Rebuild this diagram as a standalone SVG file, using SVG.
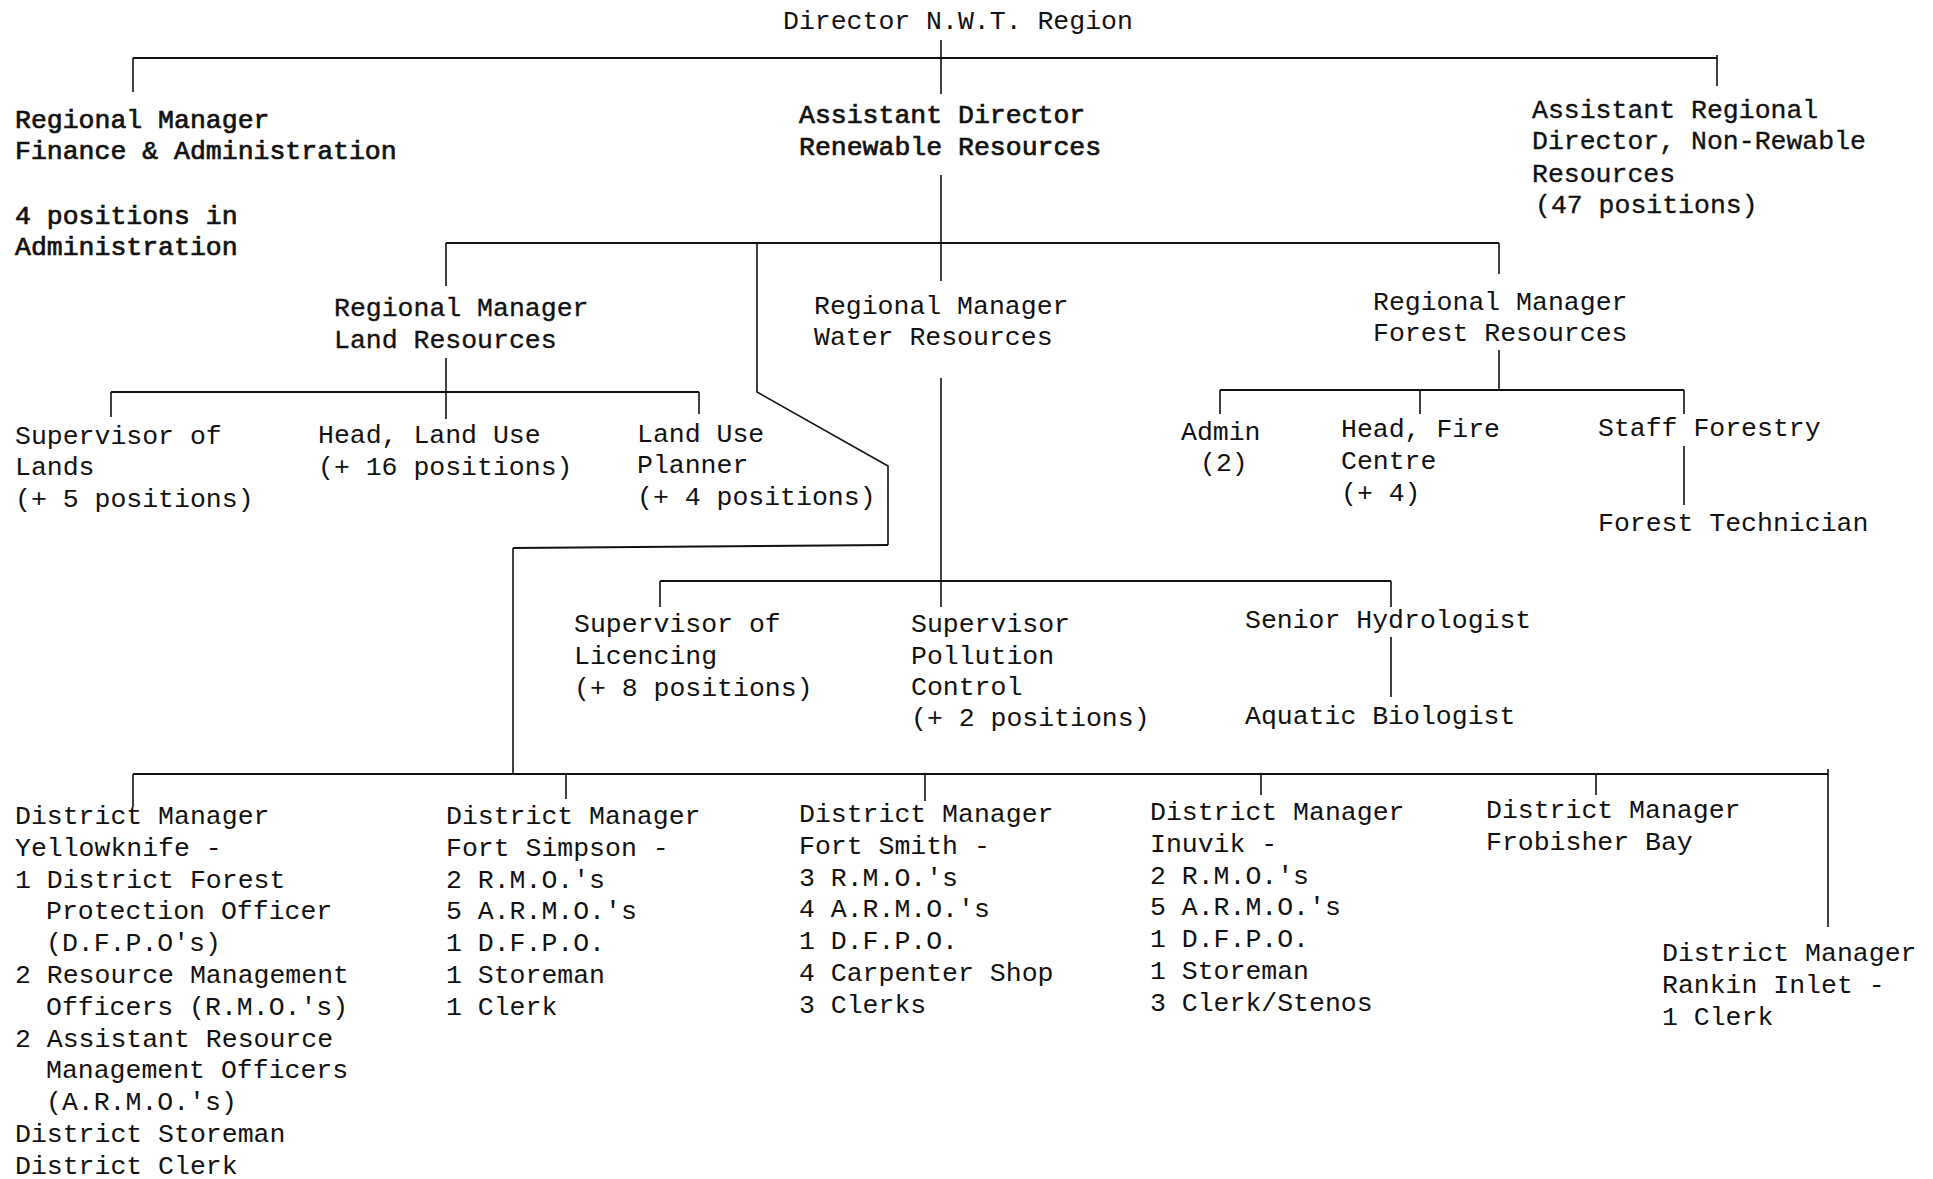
<svg xmlns="http://www.w3.org/2000/svg" width="1933" height="1179" viewBox="0 0 1933 1179">
<style>
text{font-family:"Liberation Mono","DejaVu Sans Mono",monospace;font-size:26.5px;fill:#111}
.b text{stroke:#111;stroke-width:0.7}
.m text{stroke:#111;stroke-width:0.35}
.h{stroke:#111;stroke-width:2.2;fill:none}
.v{stroke:#111;stroke-width:1.6;fill:none}
</style>
<rect width="1933" height="1179" fill="#fff"/>
<g id="connectors">
<path class="h" d="M133 58H1717"/>
<path class="v" d="M133 58V92M941 40V94M1717 55V86"/>
<path class="v" d="M941 175V281"/>
<path class="h" d="M446 243H1499"/>
<path class="v" d="M446 243V286M1499 243V274"/>
<path class="v" d="M757 243V392L888 466V545"/>
<path class="h" d="M888 545L513 548"/>
<path class="v" d="M513 548V774"/>
<path class="v" d="M446 358V419"/>
<path class="h" d="M111 392H699"/>
<path class="v" d="M111 392V417M699 392V414"/>
<path class="v" d="M941 378V607"/>
<path class="h" d="M660 581H1391"/>
<path class="v" d="M660 581V607M1391 581V607M1391 637V697"/>
<path class="v" d="M1499 350V390"/>
<path class="h" d="M1220 390H1684"/>
<path class="v" d="M1220 390V414M1420 390V414M1684 390V414M1684 446V505"/>
<path class="h" d="M133 774H1828"/>
<path class="v" d="M133 774V807M566 774V799M925 774V801M1261 774V795M1596 774V795M1828 769V927"/>
</g>
<g id="director"><text x="783" y="29">Director N.W.T. Region</text></g>
<g id="rm-finance" class="b"><text x="15" y="128">Regional Manager</text><text x="15" y="159">Finance &amp; Administration</text><text x="15" y="224">4 positions in</text><text x="15" y="255">Administration</text></g>
<g id="asst-director" class="b"><text x="799" y="123">Assistant Director</text><text x="799" y="155">Renewable Resources</text></g>
<g id="asst-regional" class="m"><text x="1532" y="118">Assistant Regional</text><text x="1532" y="149">Director, Non-Rewable</text><text x="1532" y="182">Resources</text><text x="1535" y="213">(47 positions)</text></g>
<g id="rm-land" class="m"><text x="334" y="316">Regional Manager</text><text x="334" y="348">Land Resources</text></g>
<g id="rm-water"><text x="814" y="314">Regional Manager</text><text x="814" y="345">Water Resources</text></g>
<g id="rm-forest"><text x="1373" y="310">Regional Manager</text><text x="1373" y="341">Forest Resources</text></g>
<g id="sup-lands"><text x="15" y="444">Supervisor of</text><text x="15" y="475">Lands</text><text x="15" y="507">(+ 5 positions)</text></g>
<g id="head-land-use"><text x="318" y="443">Head, Land Use</text><text x="318" y="475">(+ 16 positions)</text></g>
<g id="land-use-planner"><text x="637" y="442">Land Use</text><text x="637" y="473">Planner</text><text x="637" y="505">(+ 4 positions)</text></g>
<g id="admin"><text x="1181" y="440">Admin</text><text x="1200" y="471">(2)</text></g>
<g id="head-fire"><text x="1341" y="437">Head, Fire</text><text x="1341" y="469">Centre</text><text x="1341" y="501">(+ 4)</text></g>
<g id="staff-forestry"><text x="1598" y="436">Staff Forestry</text></g>
<g id="forest-tech"><text x="1598" y="531">Forest Technician</text></g>
<g id="sup-licencing"><text x="574" y="632">Supervisor of</text><text x="574" y="664">Licencing</text><text x="574" y="696">(+ 8 positions)</text></g>
<g id="sup-pollution"><text x="911" y="632">Supervisor</text><text x="911" y="664">Pollution</text><text x="911" y="695">Control</text><text x="911" y="726">(+ 2 positions)</text></g>
<g id="senior-hydro"><text x="1245" y="628">Senior Hydrologist</text></g>
<g id="aquatic-bio"><text x="1245" y="724">Aquatic Biologist</text></g>
<g id="dm-yellowknife">
<text x="15" y="824">District Manager</text><text x="15" y="856">Yellowknife -</text><text x="15" y="888">1 District Forest</text><text x="46" y="919">Protection Officer</text><text x="46" y="951">(D.F.P.O's)</text><text x="15" y="983">2 Resource Management</text><text x="46" y="1015">Officers (R.M.O.'s)</text><text x="15" y="1047">2 Assistant Resource</text><text x="46" y="1078">Management Officers</text><text x="46" y="1110">(A.R.M.O.'s)</text><text x="15" y="1142">District Storeman</text><text x="15" y="1174">District Clerk</text>
</g>
<g id="dm-fort-simpson">
<text x="446" y="824">District Manager</text><text x="446" y="856">Fort Simpson -</text><text x="446" y="888">2 R.M.O.'s</text><text x="446" y="919">5 A.R.M.O.'s</text><text x="446" y="951">1 D.F.P.O.</text><text x="446" y="983">1 Storeman</text><text x="446" y="1015">1 Clerk</text>
</g>
<g id="dm-fort-smith">
<text x="799" y="822">District Manager</text><text x="799" y="854">Fort Smith -</text><text x="799" y="886">3 R.M.O.'s</text><text x="799" y="917">4 A.R.M.O.'s</text><text x="799" y="949">1 D.F.P.O.</text><text x="799" y="981">4 Carpenter Shop</text><text x="799" y="1013">3 Clerks</text>
</g>
<g id="dm-inuvik">
<text x="1150" y="820">District Manager</text><text x="1150" y="852">Inuvik -</text><text x="1150" y="884">2 R.M.O.'s</text><text x="1150" y="915">5 A.R.M.O.'s</text><text x="1150" y="947">1 D.F.P.O.</text><text x="1150" y="979">1 Storeman</text><text x="1150" y="1011">3 Clerk/Stenos</text>
</g>
<g id="dm-frobisher"><text x="1486" y="818">District Manager</text><text x="1486" y="850">Frobisher Bay</text></g>
<g id="dm-rankin"><text x="1662" y="961">District Manager</text><text x="1662" y="993">Rankin Inlet -</text><text x="1662" y="1025">1 Clerk</text></g>
</svg>
